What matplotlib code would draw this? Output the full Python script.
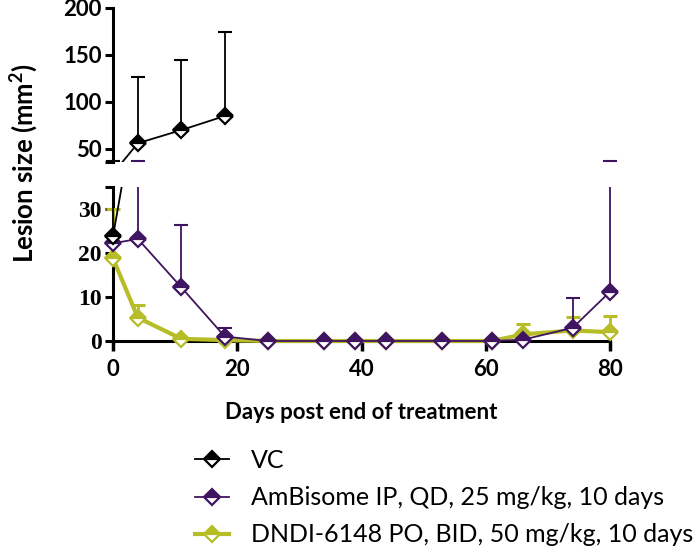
import matplotlib
matplotlib.use("Agg")
import matplotlib.pyplot as plt
from matplotlib.lines import Line2D
from matplotlib.patches import Rectangle
import numpy as np

plt.rcParams['font.family'] = ['Lato', 'DejaVu Sans']
plt.rcParams['mathtext.fontset'] = 'custom'
plt.rcParams['mathtext.rm'] = 'Lato'
plt.rcParams['mathtext.bf'] = 'Lato:bold'

# data (upper error bar ends given directly)
vc_days = [0, 4, 11, 18]
vc_mean = [23.8, 56, 70, 85]
vc_upper = [37, 127, 145, 174]

amb_days = [0, 4, 11, 18, 25, 34, 39, 44, 53, 61, 66, 74, 80]
amb_mean = [22.2, 23.2, 12.2, 1.0, 0, 0, 0, 0, 0, 0, 0.3, 3.0, 11.2]
amb_upper = [22.2, 37, 26.3, 3.0, 0, 0, 0, 0, 0, 0, 0.3, 9.8, 37.3]

dnd_days = [0, 4, 11, 18, 25, 34, 39, 44, 53, 61, 66, 74, 80]
dnd_mean = [18.8, 5.3, 0.5, 0.2, 0, 0, 0, 0, 0, 0, 1.5, 2.4, 2.0]
dnd_upper = [30, 8.2, 0.5, 0.2, 0, 0, 0, 0, 0, 0, 3.8, 5.4, 5.7]

labels = ['VC', 'AmBisome IP, QD, 25 mg/kg, 10 days',
          'DNDI-6148 PO, BID, 50 mg/kg, 10 days']
colors = ['black', '#3f1460', '#b6bd27']
lws = [1.3, 1.3, 3.0]
xticks = [0, 20, 40, 60, 80]

W, H = 693, 558
fig = plt.figure(figsize=(W / 100, H / 100), dpi=100)
ax_top = fig.add_axes([113 / W, 1 - 162 / H, 497 / W, 154 / H])
ax_bot = fig.add_axes([113 / W, 1 - 341 / H, 497 / W, 154 / H])
ax_top.set_ylim(36, 200)
ax_bot.set_ylim(0, 35)

series = [(dnd_days, dnd_mean, dnd_upper, 2),
          (amb_days, amb_mean, amb_upper, 1),
          (vc_days, vc_mean, vc_upper, 0)]

for ax, lo, hi, rect in [(ax_bot, 0, 35, (-0.05, -0.1, 1.1, 1.1)),
                         (ax_top, 36, 200, (-0.05, 0.0, 1.1, 1.1))]:
    for n, (d, m, u, k) in enumerate(series):
        d = np.array(d); m = np.array(m); u = np.array(u)
        z = 3 + n
        clip = Rectangle(rect[:2], rect[2], rect[3], transform=ax.transAxes)
        ln, = ax.plot(d, m, color=colors[k], lw=lws[k], zorder=z)
        ln.set_clip_path(clip)
        has = u > m
        eb = ax.errorbar(d[has], m[has], yerr=[np.zeros(has.sum()), (u - m)[has]],
                         fmt='none', ecolor=colors[k], elinewidth=1.3 if k < 2 else 2.0,
                         capsize=5, capthick=1.5 if k < 2 else 2.2, zorder=z)
        for c in eb.lines[1]:
            c.set_clip_path(clip)
        for c in eb.lines[2]:
            c.set_clip_path(clip)
        inside = (m >= lo) & (m <= hi)
        ax.plot(d[inside], m[inside], ls='none', marker='D', ms=8.5,
                color=colors[k], markeredgecolor=colors[k], fillstyle='top',
                markerfacecoloralt='white', mew=1.6, clip_on=False, zorder=z + 0.5)

for ax in (ax_top, ax_bot):
    ax.set_xlim(0, 80)
    ax.spines['top'].set_visible(False)
    ax.spines['right'].set_visible(False)
    ax.spines['left'].set_linewidth(2.2)
    ax.spines['bottom'].set_linewidth(2.2)
    ax.tick_params(axis='y', length=6, width=2.2, pad=2)
    ax.patch.set_visible(False)

ax_top.spines['bottom'].set_visible(False)
ax_top.set_xticks([])
ax_top.set_yticks([36, 50, 100, 150, 200])
ax_top.set_yticklabels(['', '50', '100', '150', '200'], fontsize=16, fontweight='bold')

ax_bot.set_yticks([0, 10, 20, 30, 35])
ax_bot.set_yticklabels(['0', '10', '20', '30', ''], fontsize=17, fontweight='bold',
                       family='Liberation Serif')
ax_bot.set_xticks(xticks)
ax_bot.set_xticklabels([str(t) for t in xticks], fontsize=16, fontweight='bold')
ax_bot.tick_params(axis='x', length=7, width=2.5, pad=6)
ax_bot.set_xlabel('Days post end of treatment', fontsize=16, fontweight='bold', labelpad=16)

fig.text(24 / W, 1 - 163 / H, r'Lesion size (mm$^{\mathbf{2}}$)', rotation=90,
         ha='center', va='center', fontsize=18.5, fontweight='bold')

handles = [Line2D([], [], color=colors[k], lw=lws[k], marker='D', ms=8.5,
                  fillstyle='top', markerfacecoloralt='white', mew=1.6)
           for k in range(3)]
fig.legend(handles, labels, loc='upper left', bbox_to_anchor=(195 / W, 1 - 449 / H),
           frameon=False, fontsize=18, handlelength=1.35, handletextpad=0.9,
           labelspacing=0.57, borderpad=0, borderaxespad=0)

fig.savefig('out.png', dpi=100)
